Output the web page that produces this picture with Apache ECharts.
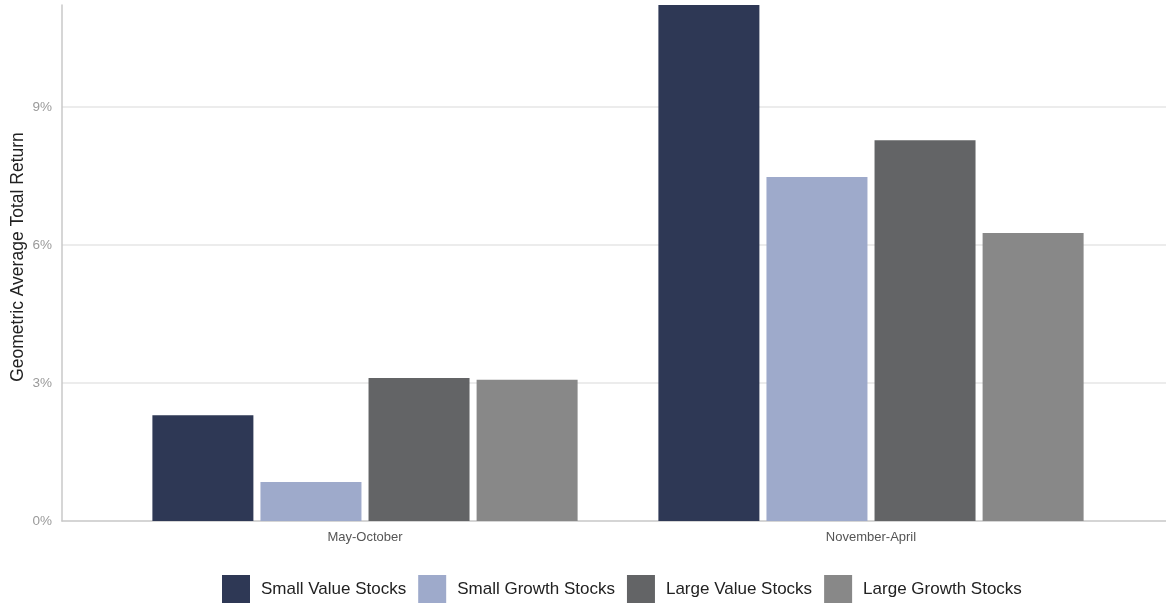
<!DOCTYPE html>
<html>
<head>
<meta charset="utf-8">
<script src="https://cdn.jsdelivr.net/npm/echarts@6/dist/echarts.min.js"></script>
<style>
html,body{margin:0;padding:0;background:#fff;}
#chart{width:1166px;height:604px;}
</style>
</head>
<body>
<div id="chart"></div>
<script>
const categories = ['May-October', 'November-April'];
const seriesNames = ['Small Value Stocks', 'Small Growth Stocks', 'Large Value Stocks', 'Large Growth Stocks'];
const smallValue = [2.30, 11.22];
const smallGrowth = [0.85, 7.48];
const largeValue = [3.11, 8.28];
const largeGrowth = [3.07, 6.26];
const yTicks = [0, 3, 6, 9];
const yMax = 11.22;

const colors = ['#2e3855', '#9eaacb', '#636466', '#888888'];
const seriesData = [smallValue, smallGrowth, largeValue, largeGrowth];

const chart = echarts.init(document.getElementById('chart'));
const gridTop = 5, gridBottom = 83;
chart.setOption({
  animation: false,
  backgroundColor: '#ffffff',
  grid: [
    {left: 62, right: 0, top: gridTop, bottom: gridBottom, outerBoundsMode: 'none', containLabel: false},
    {left: 112, right: 42, top: gridTop, bottom: gridBottom, outerBoundsMode: 'none', containLabel: false}
  ],
  legend: {
    top: 575,
    left: 222,
    padding: 0,
    itemWidth: 28,
    itemHeight: 28,
    itemGap: 12,
    icon: 'rect',
    textStyle: {fontFamily: 'Liberation Sans, Arial, sans-serif', fontSize: 17, color: '#222', padding: [0, 0, 0, 6]},
    data: seriesNames
  },
  xAxis: [
    {
      type: 'category', gridIndex: 0, data: ['', ''],
      axisLine: {show: true, lineStyle: {color: '#c8c8c8', width: 1.5}},
      axisTick: {show: false}, axisLabel: {show: false}, splitLine: {show: false}
    },
    {
      type: 'category', gridIndex: 1, data: categories,
      axisLine: {show: false}, axisTick: {show: false},
      axisLabel: {color: '#555', fontSize: 13, margin: 10, fontFamily: 'Liberation Sans, Arial, sans-serif'}
    }
  ],
  yAxis: [
    {
      type: 'value', gridIndex: 0, min: 0, max: yMax, interval: 3,
      name: 'Geometric Average Total Return', nameLocation: 'middle', nameGap: 35,
      nameMoveOverlap: false,
      nameTextStyle: {color: '#222', fontSize: 17.5, fontFamily: 'Liberation Sans, Arial, sans-serif', padding: [0, 0, 0, 12]},
      axisLine: {show: true, lineStyle: {color: '#c8c8c8', width: 1.5}},
      axisTick: {show: false},
      axisLabel: {
        color: '#9a9a9a', fontSize: 13.5, margin: 10,
        fontFamily: 'Liberation Sans, Arial, sans-serif',
        showMaxLabel: false,
        formatter: v => yTicks.indexOf(v) >= 0 ? v + '%' : ''
      },
      splitLine: {show: true, showMaxLine: false, showMinLine: false, lineStyle: {color: '#e6e6e6', width: 1.5}}
    },
    {
      type: 'value', gridIndex: 1, min: 0, max: yMax, interval: 3,
      axisLine: {show: false}, axisTick: {show: false}, axisLabel: {show: false}, splitLine: {show: false}
    }
  ],
  series: seriesNames.map((name, i) => ({
    name: name,
    type: 'bar',
    xAxisIndex: 1, yAxisIndex: 1,
    data: seriesData[i],
    barWidth: 101,
    barGap: '7%',
    itemStyle: {color: colors[i]}
  }))
});
</script>
</body>
</html>
